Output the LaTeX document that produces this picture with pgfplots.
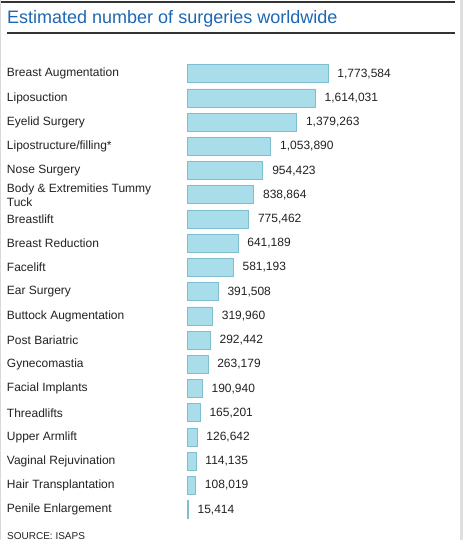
\documentclass[border=0pt]{standalone}
\usepackage{pgfplots}
\pgfplotsset{compat=1.18}
\usepackage{fontspec}
\setmainfont{Liberation Sans}

\definecolor{barfill}{HTML}{A9DDE9}
\definecolor{baredge}{HTML}{7DBFD0}
\definecolor{titleblue}{HTML}{1E67B4}
\definecolor{txt}{HTML}{222222}

\begin{document}
\begin{tikzpicture}
\path[use as bounding box, fill=white] (0,0) rectangle (463pt,-540pt);
% frame
\draw[line width=1.2pt, color=black!80] (0,-2pt) -- (455pt,-2pt);
\draw[line width=1.2pt, color=black!80] (7pt,-33pt) -- (455pt,-33pt);
\fill[black!12] (460pt,0) rectangle (463pt,-540pt);
\draw[black!15, line width=0.8pt] (0.4pt,0) -- (0.4pt,-540pt);
\node[anchor=base west, inner sep=0pt, text=titleblue, font=\fontsize{18}{21}\selectfont] at (7pt,-23.5pt) {Estimated number of surgeries worldwide};
\node[anchor=base west, inner sep=0pt, text=txt, font=\fontsize{10}{12}\selectfont] at (7pt,-539pt) {SOURCE: ISAPS};

\begin{axis}[
at={(187pt,-49.5pt)}, anchor=north west,
scale only axis,
width=238.5pt, height=484.4pt,
xmin=0, xmax=3000000,
ymin=-1, ymax=19,
y dir=reverse,
xbar, bar width=18pt,
enlargelimits=false,
clip=false,
axis line style={draw=none},
tick style={draw=none},
xtick=\empty,
ytick={0,...,18},
yticklabels={Breast Augmentation, Liposuction, Eyelid Surgery, Lipostructure/filling*, Nose Surgery, {Body \& Extremities Tummy\\Tuck}, Breastlift, Breast Reduction, Facelift, Ear Surgery, Buttock Augmentation, Post Bariatric, Gynecomastia, Facial Implants, Threadlifts, Upper Armlift, Vaginal Rejuvination, Hair Transplantation, Penile Enlargement},
yticklabel style={anchor=west, xshift=-176pt, align=left, inner sep=0pt, text=txt, font=\fontsize{12}{14}\selectfont},
nodes near coords,
nodes near coords align={horizontal},
every node near coord/.append style={anchor=west, inner sep=0pt, xshift=9pt, text=txt, font=\fontsize{12}{14}\selectfont},
/pgf/number format/.cd, fixed, precision=0, 1000 sep={,}, assume math mode=true,
]
\addplot[fill=barfill, draw=baredge, line width=0.8pt] coordinates {
(1773584,0) (1614031,1) (1379263,2) (1053890,3) (954423,4) (838864,5)
(775462,6) (641189,7) (581193,8) (391508,9) (319960,10) (292442,11)
(263179,12) (190940,13) (165201,14) (126642,15) (114135,16) (108019,17)
(15414,18)
};
\end{axis}
\end{tikzpicture}
\end{document}
